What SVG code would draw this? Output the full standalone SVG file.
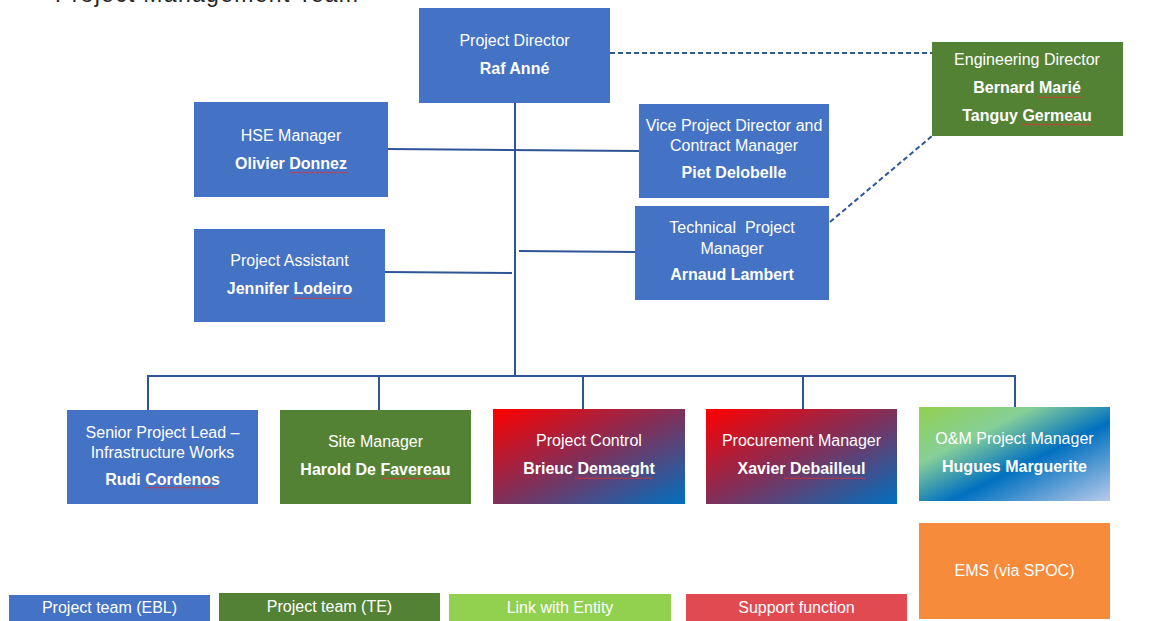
<svg xmlns="http://www.w3.org/2000/svg" width="1153" height="621" viewBox="0 0 1153 621">
  <defs>
    <style>
      text { font-family: "Liberation Sans", Arial, sans-serif; fill: #ffffff; text-anchor: middle; font-size: 16px; }
      .b { font-weight: bold; }
      .title { fill: #262626; text-anchor: start; font-size: 23px; }
      .line { stroke: #2f5597; stroke-width: 2; fill: none; }
      .dash { stroke: #2f5597; stroke-width: 2; fill: none; stroke-dasharray: 5 3; }
      .blue { fill: #4472c4; }
      .green { fill: #548235; }
      .spell { fill: url(#squiggle); }
    </style>
    <linearGradient id="support" x1="0" y1="0" x2="1" y2="1">
      <stop offset="0" stop-color="#ff0000"/>
      <stop offset="0.5" stop-color="#80305a"/>
      <stop offset="1" stop-color="#0070c0"/>
    </linearGradient>
    <linearGradient id="entity" x1="0" y1="0" x2="1" y2="1">
      <stop offset="0" stop-color="#92d050"/>
      <stop offset="0.3" stop-color="#86cf98"/>
      <stop offset="0.58" stop-color="#0070c0"/>
      <stop offset="1" stop-color="#b8cbea"/>
    </linearGradient>
    <!-- wavy spell-check underline -->
    <pattern id="squiggle" width="3" height="3" patternUnits="userSpaceOnUse">
      <path d="M0 2.2 L0.75 0.8 L1.5 2.2 L2.25 0.8 L3 2.2" stroke="#d83030" stroke-width="0.6" fill="none"/>
    </pattern>
  </defs>

  <text class="title" x="55" y="2" textLength="303">Project Management Team</text>

  <!-- reporting lines -->
  <g id="connectors">
    <line class="line" x1="515" y1="103" x2="515" y2="376"/>
    <line class="line" x1="388" y1="149" x2="639" y2="151"/>
    <line class="line" x1="385" y1="272" x2="512" y2="273"/>
    <line class="line" x1="519" y1="251" x2="635" y2="252"/>
    <line class="line" x1="147" y1="376" x2="1016" y2="376"/>
    <line class="line" x1="148" y1="376" x2="148" y2="410"/>
    <line class="line" x1="379" y1="376" x2="379" y2="410"/>
    <line class="line" x1="583" y1="376" x2="583" y2="409"/>
    <line class="line" x1="803" y1="376" x2="803" y2="409"/>
    <line class="line" x1="1015" y1="376" x2="1015" y2="407"/>
    <line class="dash" x1="610" y1="53" x2="932" y2="53"/>
    <line class="dash" x1="830" y1="222" x2="932" y2="136"/>
  </g>

  <g id="project-director">
    <rect class="blue" x="419" y="8" width="191" height="95"/>
    <text x="514.5" y="46">Project Director</text>
    <text class="b" x="514.5" y="74">Raf Anné</text>
  </g>

  <g id="engineering-director">
    <rect class="green" x="932" y="42" width="191" height="94"/>
    <text x="1027" y="65">Engineering Director</text>
    <text class="b" x="1027" y="93">Bernard Marié</text>
    <text class="b" x="1027" y="121">Tanguy Germeau</text>
    <rect class="spell" x="1037" y="95" width="45" height="3"/>
    <rect class="spell" x="1021" y="123" width="71" height="3"/>
  </g>

  <g id="hse-manager">
    <rect class="blue" x="194" y="102" width="194" height="95"/>
    <text x="291" y="141">HSE Manager</text>
    <text class="b" x="291" y="169">Olivier Donnez</text>
    <rect class="spell" x="290" y="171" width="58" height="3"/>
  </g>

  <g id="vice-project-director">
    <rect class="blue" x="639" y="104" width="190" height="94"/>
    <text x="734" y="131">Vice Project Director and</text>
    <text x="734" y="151">Contract Manager</text>
    <text class="b" x="734" y="178">Piet Delobelle</text>
  </g>

  <g id="technical-project-manager">
    <rect class="blue" x="635" y="206" width="194" height="94"/>
    <text x="732" y="233" xml:space="preserve">Technical  Project</text>
    <text x="732" y="254">Manager</text>
    <text class="b" x="732" y="280">Arnaud Lambert</text>
  </g>

  <g id="project-assistant">
    <rect class="blue" x="194" y="229" width="191" height="93"/>
    <text x="289.5" y="266">Project Assistant</text>
    <text class="b" x="289.5" y="294">Jennifer Lodeiro</text>
    <rect class="spell" x="292" y="296" width="60" height="3"/>
  </g>

  <g id="senior-project-lead">
    <rect class="blue" x="67" y="410" width="191" height="94"/>
    <text x="162.5" y="438">Senior Project Lead –</text>
    <text x="162.5" y="458">Infrastructure Works</text>
    <text class="b" x="162.5" y="485">Rudi Cordenos</text>
    <rect class="spell" x="145" y="487" width="73" height="3"/>
  </g>

  <g id="site-manager">
    <rect class="green" x="280" y="410" width="191" height="94"/>
    <text x="375.5" y="447">Site Manager</text>
    <text class="b" x="375.5" y="475">Harold De Favereau</text>
    <rect class="spell" x="381" y="477" width="69" height="3"/>
  </g>

  <g id="project-control">
    <rect fill="url(#support)" x="493" y="409" width="192" height="95"/>
    <text x="589" y="446">Project Control</text>
    <text class="b" x="589" y="474">Brieuc Demaeght</text>
    <rect class="spell" x="575" y="476" width="79" height="3"/>
  </g>

  <g id="procurement-manager">
    <rect fill="url(#support)" x="706" y="409" width="191" height="95"/>
    <text x="801.5" y="446">Procurement Manager</text>
    <text class="b" x="801.5" y="474">Xavier Debailleul</text>
    <rect class="spell" x="784" y="476" width="82" height="3"/>
  </g>

  <g id="om-project-manager">
    <rect fill="url(#entity)" x="919" y="407" width="191" height="94"/>
    <text x="1014.5" y="444">O&amp;M Project Manager</text>
    <text class="b" x="1014.5" y="472">Hugues Marguerite</text>
  </g>

  <g id="ems">
    <rect fill="#f58b3b" x="919" y="523" width="191" height="96"/>
    <text x="1014.5" y="576">EMS (via SPOC)</text>
  </g>

  <!-- colour key -->
  <g id="legend">
    <rect class="blue" x="9" y="595" width="201" height="26"/>
    <text x="109.5" y="613">Project team (EBL)</text>
    <rect class="green" x="219" y="593" width="221" height="28"/>
    <text x="329.5" y="612">Project team (TE)</text>
    <rect fill="#92d050" x="449" y="594" width="222" height="27"/>
    <text x="560" y="613">Link with Entity</text>
    <rect fill="#e24a52" x="686" y="594" width="221" height="27"/>
    <text x="796.5" y="613">Support function</text>
  </g>
</svg>
